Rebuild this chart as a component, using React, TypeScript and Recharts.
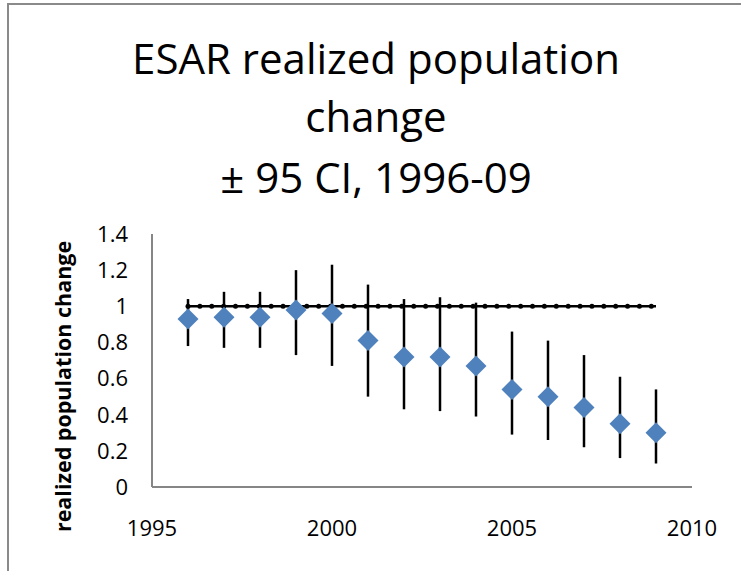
import * as React from "react"
import {
  ComposedChart,
  ErrorBar,
  Line,
  Scatter,
  XAxis,
  YAxis,
} from "recharts"

// realized population change per year, with 95% CI bounds
const years = [1996, 1997, 1998, 1999, 2000, 2001, 2002, 2003, 2004, 2005, 2006, 2007, 2008, 2009]
const estimate = [0.93, 0.94, 0.94, 0.98, 0.96, 0.81, 0.72, 0.72, 0.67, 0.54, 0.5, 0.44, 0.35, 0.3]
const lowerCI = [0.78, 0.77, 0.77, 0.73, 0.67, 0.5, 0.43, 0.42, 0.39, 0.29, 0.26, 0.22, 0.16, 0.13]
const upperCI = [1.04, 1.08, 1.08, 1.2, 1.23, 1.12, 1.04, 1.05, 1.02, 0.86, 0.81, 0.73, 0.61, 0.54]

// reference line at 1 (no change)
const refLineX = [1996, 2009]
const refDotX = [
  1996.0, 1996.33, 1996.66, 1996.99, 1997.32, 1997.65, 1997.98, 1998.31, 1998.64, 1998.97,
  1999.3, 1999.63, 1999.96, 2000.29, 2000.62, 2000.95, 2001.28, 2001.61, 2001.94, 2002.27,
  2002.6, 2002.93, 2003.26, 2003.59, 2003.92, 2004.25, 2004.58, 2004.91, 2005.24, 2005.57,
  2005.9, 2006.23, 2006.56, 2006.89, 2007.22, 2007.55, 2007.88, 2008.21, 2008.54, 2008.87,
]
const refValue = 1

const xTicks = [1995, 2000, 2005, 2010]
const yTicks = [0, 0.2, 0.4, 0.6, 0.8, 1, 1.2, 1.4]

const titleLines = ["ESAR realized population", "change", "\u00b1 95 CI, 1996-09"]

const FONT = "'Open Sans', sans-serif"

const pointData = years.map((x, i) => ({
  x,
  y: estimate[i],
  err: [estimate[i] - lowerCI[i], upperCI[i] - estimate[i]],
}))
const lineData = refLineX.map((x) => ({ x, y: refValue }))
const dotData = refDotX.map((x) => ({ x, y: refValue }))

const Diamond = (props: any) => {
  const { cx, cy } = props
  const r = 10.5
  return (
    <polygon
      points={`${cx},${cy - r} ${cx + r},${cy} ${cx},${cy + r} ${cx - r},${cy}`}
      fill="#4F81BD"
    />
  )
}

const SmallDot = (props: any) => <circle cx={props.cx} cy={props.cy} r={2.5} fill="#000" />

const YLabel = (props: any) => {
  const vb = props.viewBox
  const x = vb.x + 62
  const y = vb.y + vb.height / 2 + 26
  return (
    <text
      x={x}
      y={y}
      transform={`rotate(-90, ${x}, ${y})`}
      textAnchor="middle"
      dominantBaseline="central"
      fontFamily={FONT}
      fontWeight="bold"
      fontSize={21.5}
      fill="#000"
    >
      realized population change
    </text>
  )
}

export default function App() {
  return (
    <div
      style={{
        position: "absolute",
        left: 0,
        top: 0,
        width: 741,
        height: 571,
        overflow: "hidden",
        background: "#fff",
      }}
    >
      <div
        style={{
          position: "absolute",
          left: 7,
          top: 3,
          right: -10,
          bottom: -10,
          borderTop: "2px solid #8a8a8a",
          borderLeft: "2px solid #8a8a8a",
        }}
      />
      <svg width={741} height={220} style={{ position: "absolute", left: 0, top: 0 }}>
        {titleLines.map((t, i) => (
          <text
            key={t}
            x={376}
            y={[74, 132, 193][i]}
            textAnchor="middle"
            fontFamily={FONT}
            fontSize={42}
            fill="#000"
          >
            {t}
          </text>
        ))}
      </svg>
      <ComposedChart
        width={741}
        height={571}
        margin={{ top: 234, right: 49, bottom: 34, left: 0 }}
        style={{ position: "absolute", left: 0, top: 0 }}
      >
        <XAxis
          type="number"
          dataKey="x"
          domain={[1995, 2010]}
          ticks={xTicks}
          allowDataOverflow
          height={50}
          tickLine={false}
          tickSize={0}
          tickMargin={33}
          stroke="#868686"
          strokeWidth={2}
          tick={{ fill: "#000", fontSize: 22, fontFamily: FONT }}
        />
        <YAxis
          type="number"
          dataKey="y"
          domain={[0, 1.4]}
          ticks={yTicks}
          width={152}
          tickLine={false}
          tickSize={0}
          tickMargin={24}
          stroke="#868686"
          strokeWidth={2}
          tick={{ fill: "#000", fontSize: 22, fontFamily: FONT }}
          label={<YLabel />}
        />
        <Line
          data={lineData}
          dataKey="y"
          stroke="#000"
          strokeWidth={2.5}
          dot={false}
          activeDot={false}
          isAnimationActive={false}
        />
        <Scatter data={dotData} dataKey="y" shape={<SmallDot />} isAnimationActive={false} />
        <Scatter data={pointData} dataKey="y" shape={<Diamond />} isAnimationActive={false}>
          <ErrorBar dataKey="err" direction="y" width={0} stroke="#000" strokeWidth={2.5} />
        </Scatter>
      </ComposedChart>
    </div>
  )
}
